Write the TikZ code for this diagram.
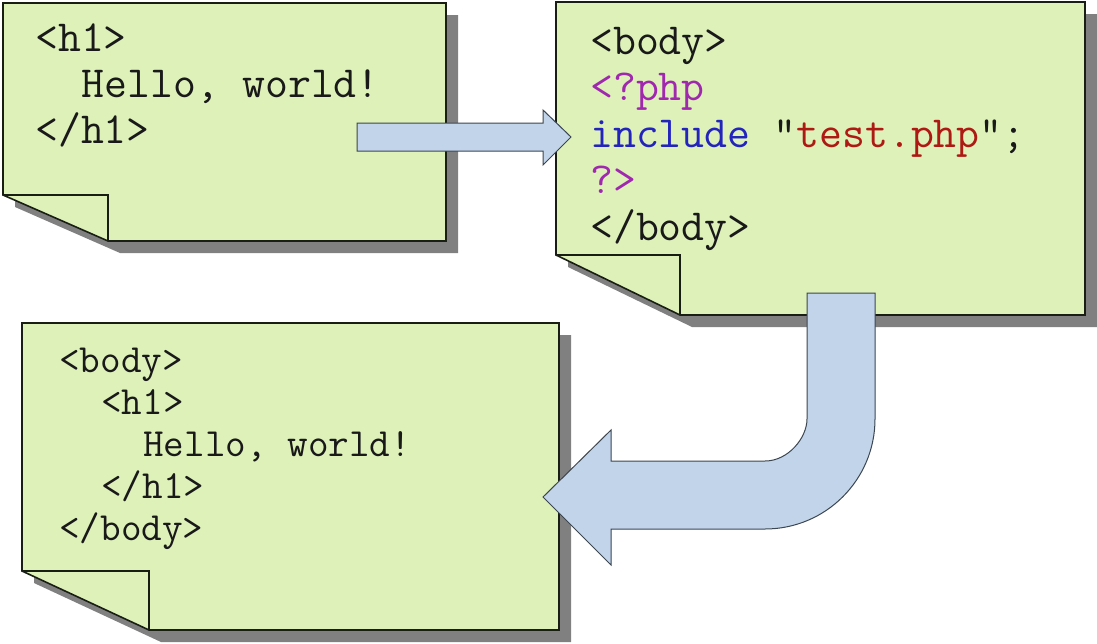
\documentclass[tikz,border=0pt]{standalone}
\usepackage{fontspec}
\definecolor{notefill}{RGB}{221,241,185}
\definecolor{noteline}{RGB}{25,30,20}
\definecolor{shadowgray}{RGB}{128,128,128}
\definecolor{arrowfill}{RGB}{194,212,234}
\definecolor{arrowline}{RGB}{60,70,80}
\definecolor{txtblack}{RGB}{25,25,25}
\definecolor{phppurple}{RGB}{160,40,175}
\definecolor{kwblue}{RGB}{35,35,190}
\definecolor{strred}{RGB}{175,25,20}
\tikzset{
  notebody/.style={fill=notefill, draw=noteline, line width=1.6pt, line join=miter},
  noteshadow/.style={fill=shadowgray, draw=none},
  foldline/.style={draw=noteline, line width=1.6pt},
  blockarrow/.style={fill=arrowfill, draw=arrowline, line width=1pt, line join=miter},
  codebig/.style={font=\ttfamily\fontsize{44.5}{52}\selectfont, anchor=base west, inner sep=0pt, text=txtblack},
  codesmall/.style={font=\ttfamily\fontsize{40}{47}\selectfont, anchor=base west, inner sep=0pt, text=txtblack}
}
\begin{document}
\begin{tikzpicture}[x=1pt,y=-1pt]
\useasboundingbox (0,0) rectangle (1097,643);

% ---------- shadows ----------
\begin{scope}[shift={(12,12)}]
  \fill[noteshadow] (3,3) -- (446,3) -- (446,241) -- (108,241) -- (3,195) -- cycle;
  \fill[noteshadow] (556,2) -- (1085,2) -- (1085,315) -- (680,315) -- (556,255) -- cycle;
  \fill[noteshadow] (22,323) -- (559,323) -- (559,630) -- (149,630) -- (22,571) -- cycle;
\end{scope}

% ---------- note 1 ----------
\path[notebody] (3,3) -- (446,3) -- (446,241) -- (108,241) -- (3,195) -- cycle;
\draw[foldline] (3,195) -- (108,195) -- (108,241);
% ---------- note 2 ----------
\path[notebody] (556,2) -- (1085,2) -- (1085,315) -- (680,315) -- (556,255) -- cycle;
\draw[foldline] (556,255) -- (680,255) -- (680,315);
% ---------- note 3 ----------
\path[notebody] (22,323) -- (559,323) -- (559,630) -- (149,630) -- (22,571) -- cycle;
\draw[foldline] (22,571) -- (149,571) -- (149,630);

% ---------- texts note 1 ----------
\node[codebig] (a1) at (35,51) {<h1>};
\node[codebig] (a2) at (81.7,97) {Hello, world!};
\node[codebig] (a3) at (35,143) {</h1>};

% ---------- texts note 2 ----------
\node[codebig] (b1) at (590,54) {<body>};
\node[codebig, text=phppurple] (b2) at (590,100.5) {<?php};
\node[codebig] (b3) at (590,147) {\textcolor{kwblue}{include} "\textcolor{strred}{test.php}";};
\node[codebig, text=phppurple] (b4) at (590,193.5) {?>};
\node[codebig] (b5) at (590,240) {</body>};

% ---------- texts note 3 ----------
\node[codesmall] (c1) at (59,372) {<body>};
\node[codesmall] (c2) at (101,414) {<h1>};
\node[codesmall] (c3) at (143,456) {Hello, world!};
\node[codesmall] (c4) at (101,498) {</h1>};
\node[codesmall] (c5) at (59,540) {</body>};

% ---------- straight block arrow ----------
\draw[blockarrow] (357,123) -- (543,123) -- (543,110) -- (571,137) -- (543,165) -- (543,151) -- (357,151) -- cycle;

% ---------- curved block arrow ----------
\draw[blockarrow] (807,293) -- (875,293) -- (875,419)
  .. controls (875,479.75) and (825.75,529) .. (765,529)
  -- (611,529) -- (611,565) -- (543,497) -- (611,430) -- (611,461)
  -- (765,461)
  .. controls (788.2,461) and (807,437.8) .. (807,419)
  -- cycle;
\end{tikzpicture}
\end{document}
